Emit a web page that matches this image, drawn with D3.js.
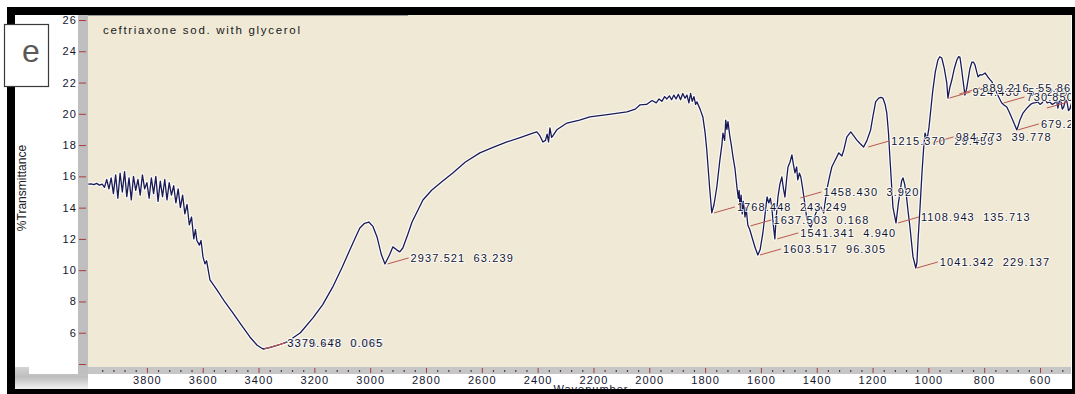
<!DOCTYPE html>
<html>
<head>
<meta charset="utf-8">
<script src="https://cdn.jsdelivr.net/npm/d3@7"></script>
<style>
  body { margin: 0; background: #fff; }
  svg { display: block; font-family: "Liberation Sans", Arial, sans-serif; }
</style>
</head>
<body>
<div id="chart"></div>
<script>
// spectrum (cm-1 and %T)
const wavenumber = [
  4010, 4000, 3990, 3980, 3970, 3960, 3952, 3944, 3936, 3928,
  3920, 3912, 3904, 3896, 3888, 3880, 3872, 3864, 3856, 3848,
  3840, 3832, 3824, 3816, 3808, 3800, 3792, 3784, 3776, 3768,
  3760, 3752, 3744, 3736, 3728, 3720, 3712, 3704, 3696, 3688,
  3680, 3672, 3664, 3656, 3648, 3640, 3632, 3626, 3621, 3612,
  3606, 3599, 3592, 3586, 3574, 3549, 3520, 3492, 3460, 3431,
  3405, 3384, 3360, 3330, 3298, 3250, 3205, 3170, 3134, 3100,
  3073, 3050, 3037, 3020, 3005, 2990, 2975, 2960, 2947, 2930,
  2919, 2905, 2894, 2883, 2865, 2850, 2830, 2811, 2779, 2740,
  2704, 2660, 2607, 2560, 2510, 2460, 2420, 2403, 2392, 2381,
  2372, 2366, 2361, 2356, 2350, 2345, 2330, 2295, 2250, 2213,
  2150, 2080, 2050, 2034, 2010, 1990, 1975, 1965, 1955, 1945,
  1937, 1928, 1920, 1912, 1904, 1896, 1888, 1880, 1872, 1865,
  1858, 1852, 1846, 1840, 1834, 1829, 1818, 1808, 1800, 1794,
  1783, 1776, 1768, 1758, 1747, 1740, 1736, 1730, 1726, 1722,
  1718, 1711, 1706, 1700, 1693, 1686, 1681, 1678, 1675, 1671,
  1667, 1663, 1657, 1653, 1647, 1640, 1629, 1620, 1611, 1603,
  1593, 1585, 1578, 1572, 1566, 1561, 1555, 1550, 1546, 1539,
  1532, 1525, 1520, 1514, 1508, 1503, 1496, 1489, 1484, 1478,
  1472, 1468, 1462, 1457, 1451, 1446, 1440, 1435, 1428, 1421,
  1412, 1403, 1395, 1385, 1375, 1364, 1355, 1346, 1335, 1321,
  1310, 1303, 1292, 1278, 1268, 1257, 1245, 1232, 1220, 1207,
  1198, 1189, 1178, 1170, 1163, 1155, 1149, 1143, 1138, 1132,
  1127, 1116, 1108, 1102, 1096, 1091, 1085, 1080, 1073, 1066,
  1060, 1055, 1045, 1041, 1037, 1030, 1023, 1017, 1012, 1005,
  998, 990, 984, 975, 966, 959, 952, 943, 934, 930,
  923, 916, 907, 898, 892, 887, 882, 876, 869, 863,
  858, 851, 844, 838, 833, 827, 822, 815, 808, 802,
  797, 792, 787, 780, 772, 763, 755, 746, 737, 728,
  719, 710, 701, 692, 683, 677, 672, 666, 661, 652,
  643, 634, 625, 616, 608, 600, 593, 587, 582, 574,
  565, 556, 547, 541, 536, 531, 526, 520, 515, 509,
  504, 498, 493, 487, 482
];
const transmittance = [
  15.50, 15.52, 15.47, 15.55, 15.44, 15.50, 15.30, 15.80, 15.20, 15.90,
  14.90, 16.10, 14.60, 16.20, 15.00, 16.30, 14.70, 15.90, 14.50, 16.00,
  15.10, 15.80, 14.80, 16.10, 15.20, 15.60, 14.60, 15.90, 14.90, 16.00,
  14.40, 15.70, 14.70, 15.80, 14.50, 15.60, 14.80, 15.40, 14.30, 15.20,
  14.00, 14.80, 13.60, 14.20, 12.90, 13.40, 12.00, 12.60, 11.90, 11.60,
  11.90, 10.85, 10.40, 10.60, 9.38, 8.74, 7.95, 7.27, 6.45, 5.73,
  5.20, 4.96, 5.05, 5.20, 5.41, 6.00, 6.95, 7.80, 8.93, 10.20,
  11.29, 12.20, 12.70, 13.00, 13.08, 12.80, 12.10, 11.00, 10.40, 11.00,
  11.49, 11.30, 11.17, 11.42, 12.30, 13.08, 13.80, 14.49, 15.13, 15.70,
  16.22, 16.90, 17.50, 17.85, 18.20, 18.50, 18.75, 18.84, 18.60, 18.20,
  18.30, 18.70, 18.20, 19.10, 18.50, 18.60, 19.00, 19.41, 19.60, 19.80,
  19.95, 20.12, 20.30, 20.57, 20.60, 20.85, 20.70, 20.95, 20.80, 21.10,
  20.95, 21.15, 20.90, 21.20, 20.95, 21.25, 20.90, 21.30, 21.00, 21.20,
  20.70, 21.30, 20.80, 21.10, 20.60, 20.76, 20.30, 19.80, 18.80, 17.69,
  15.10, 13.66, 14.20, 15.32, 17.05, 18.00, 18.77, 18.30, 19.60, 19.00,
  19.50, 18.52, 18.00, 17.24, 16.50, 15.32, 14.60, 15.10, 14.00, 14.80,
  13.60, 14.40, 13.40, 14.00, 12.89, 12.60, 11.93, 11.40, 10.97, 11.30,
  12.38, 13.60, 14.68, 14.30, 14.60, 14.04, 12.80, 12.00, 13.20, 14.68,
  15.50, 15.96, 15.30, 14.68, 15.80, 16.60, 16.90, 17.37, 16.80, 16.22,
  16.60, 15.77, 16.20, 15.96, 15.30, 14.68, 13.90, 13.21, 12.90, 12.76,
  13.20, 13.66, 13.90, 14.04, 13.66, 15.13, 15.90, 16.60, 17.00, 17.50,
  17.30, 17.69, 18.52, 18.84, 18.60, 18.33, 18.10, 17.88, 18.30, 18.97,
  19.90, 20.76, 21.00, 21.05, 21.01, 20.60, 20.05, 18.80, 17.24, 15.50,
  14.04, 13.02, 14.20, 14.94, 15.70, 15.90, 15.50, 14.94, 13.80, 12.76,
  11.70, 10.85, 10.14, 10.50, 11.93, 14.00, 16.22, 17.80, 18.77, 18.33,
  19.10, 20.50, 21.52, 22.70, 23.44, 23.65, 23.57, 22.90, 21.97, 21.01,
  21.70, 22.16, 22.90, 23.44, 23.65, 23.63, 23.00, 22.16, 21.20, 21.60,
  22.16, 22.90, 23.31, 23.30, 23.12, 22.70, 22.36, 22.50, 22.48, 22.55,
  22.61, 22.50, 22.36, 22.20, 22.04, 21.70, 21.33, 21.00, 20.69, 20.55,
  20.44, 20.10, 19.73, 19.35, 18.97, 19.30, 19.60, 19.85, 20.05, 20.25,
  20.44, 20.60, 20.69, 20.72, 20.76, 20.60, 20.69, 20.85, 20.88, 20.70,
  20.76, 20.60, 20.69, 20.90, 20.37, 20.80, 20.88, 20.30, 20.44, 20.90,
  20.82, 20.20, 20.31, 20.69, 20.50
];

// peak picks: wavenumber label, intensity label, %T where the leader starts
const peakLabel = [
  "3376.478", "3379.648", "2937.521", "1768.448", "1637.503", "1603.517",
  "1541.341", "1458.430", "1215.370", "1108.943", "1041.342", "984.773",
  "924.430", "889.216", "730.850", "679.221", "575.620"
];
const peakIntensity = [
  "0.085", "0.065", "63.239", "243.249", "0.168", "96.305",
  "4.940", "3.920", "29.459", "135.713", "229.137", "39.778",
  "57.219", "55.861", "8.458", "10.884", "7.312"
];
const peakTransmittance = [
  4.98, 4.97, 10.40, 13.66, 12.83, 10.97,
  12.00, 14.62, 17.88, 13.02, 10.14, 18.14,
  21.01, 21.27, 20.69, 18.97, 20.37
];

const yTickValues = [4, 6, 8, 10, 12, 14, 16, 18, 20, 22, 24, 26];
const xTickValues = [3800, 3600, 3400, 3200, 3000, 2800, 2600, 2400, 2200, 2000, 1800, 1600, 1400, 1200, 1000, 800, 600];
const title = "ceftriaxone sod. with glycerol";
const yTitle = "%Transmittance";
const xTitle = "Wavenumber";
const panelLetter = "e";

const width = 1075;
const height = 394;
const plot = { left: 88, right: 1071, top: 15, bottom: 367 };
const textColor = "#15152e";

const x = d3.scaleLinear().domain([4011, 489]).range([plot.left, plot.right]);
const y = d3.scaleLinear().domain([4, 26]).range([364, 20]);

const svg = d3.select("#chart")
  .append("svg")
  .attr("width", width)
  .attr("height", height);

const defs = svg.append("defs");
defs.append("clipPath")
  .attr("id", "plot-clip")
  .append("rect")
    .attr("x", plot.left)
    .attr("y", plot.top)
    .attr("width", plot.right - plot.left)
    .attr("height", plot.bottom - plot.top);

const shade = defs.append("linearGradient")
  .attr("id", "corner-shade")
  .attr("x1", 0).attr("y1", 0).attr("x2", 0).attr("y2", 1);
shade.append("stop").attr("offset", "0%").attr("stop-color", "#d4d4d4");
shade.append("stop").attr("offset", "45%").attr("stop-color", "#bdbdbd");
shade.append("stop").attr("offset", "100%").attr("stop-color", "#f2f2f2");

// backgrounds
svg.append("rect").attr("width", width).attr("height", height).attr("fill", "#fff");
svg.append("rect")
  .attr("x", 15).attr("y", 367).attr("width", plot.left - 15).attr("height", 22)
  .attr("fill", "url(#corner-shade)");
svg.append("rect")
  .attr("x", 29).attr("y", 15).attr("width", 49).attr("height", 359)
  .attr("fill", "#fff");
svg.append("rect")
  .attr("x", plot.left).attr("y", plot.top)
  .attr("width", plot.right - plot.left).attr("height", plot.bottom - plot.top)
  .attr("fill", "#efe9d6");
// axis strips
svg.append("rect")
  .attr("x", 78).attr("y", plot.top).attr("width", plot.left - 78).attr("height", 359)
  .attr("fill", "#bfbfbf");
svg.append("rect")
  .attr("x", plot.left).attr("y", plot.bottom).attr("width", plot.right - plot.left).attr("height", 7)
  .attr("fill", "#c6c6c6");
svg.append("rect")
  .attr("x", plot.left).attr("y", 14).attr("width", 320).attr("height", 2)
  .attr("fill", "#9a9a9a");

// spectrum
const points = wavenumber.map((w, i) => [w, transmittance[i]]);
const line = d3.line()
  .x(d => x(d[0]))
  .y(d => y(d[1]));

const plotG = svg.append("g").attr("clip-path", "url(#plot-clip)");

plotG.append("path")
  .datum(points)
  .attr("d", line)
  .attr("fill", "none")
  .attr("stroke", "#fff")
  .attr("stroke-opacity", 0.85)
  .attr("stroke-width", 3.6)
  .attr("stroke-linejoin", "round");

plotG.append("path")
  .datum(points)
  .attr("d", line)
  .attr("fill", "none")
  .attr("stroke", "#1a1a55")
  .attr("stroke-width", 1.3)
  .attr("stroke-linejoin", "round");

// peak labels
const peaks = peakLabel.map((lab, i) => ({
  wn: +lab,
  t: peakTransmittance[i],
  text: `${lab}  ${peakIntensity[i]}`
}));

plotG.selectAll(".leader")
  .data(peaks)
  .enter()
  .append("line")
    .attr("class", "leader")
    .attr("x1", d => x(d.wn))
    .attr("y1", d => y(d.t))
    .attr("x2", d => x(d.wn) + 21)
    .attr("y2", d => y(d.t) - 6)
    .attr("stroke", "#b9574f")
    .attr("stroke-width", 1);

// text of a pick whose label starts past the frame stays hidden, as in the source
plotG.selectAll(".peak-label")
  .data(peaks.filter(d => x(d.wn) + 23 < plot.right - 6))
  .enter()
  .append("text")
    .attr("class", "peak-label")
    .attr("x", d => x(d.wn) + 23)
    .attr("y", d => y(d.t) - 6)
    .attr("dy", "0.36em")
    .style("white-space", "pre")
    .attr("font-size", 11)
    .attr("letter-spacing", 1.1)
    .attr("fill", textColor)
    .attr("stroke", "#fff")
    .attr("stroke-opacity", 0.8)
    .attr("stroke-width", 2)
    .attr("paint-order", "stroke")
    .text(d => d.text);

// title
svg.append("text")
  .attr("x", 103)
  .attr("y", 34)
  .attr("font-size", 11.5)
  .attr("letter-spacing", 1.7)
  .attr("fill", "#1a1a1a")
  .text(title);

// y axis
const yAxis = svg.append("g")
  .attr("transform", "translate(86,0)")
  .call(d3.axisLeft(y)
    .tickValues(yTickValues)
    .tickSize(7)
    .tickPadding(2)
    .tickFormat(d => d === 4 ? "" : d));
yAxis.select(".domain").remove();
yAxis.selectAll(".tick line").attr("stroke", "#a63c3c");
yAxis.selectAll(".tick text")
  .attr("font-family", "Liberation Sans, Arial, sans-serif")
  .attr("font-size", 11)
  .attr("letter-spacing", 1.1)
  .attr("fill", textColor);

// x axis: minor then major ticks
const minorTicks = d3.range(480, 4001, 40).filter(v => v % 200 !== 0);
const xMinor = svg.append("g")
  .attr("transform", `translate(0,${plot.bottom + 3})`)
  .call(d3.axisBottom(x).tickValues(minorTicks).tickSize(2).tickFormat(""));
xMinor.select(".domain").remove();
xMinor.selectAll(".tick line").attr("stroke", "#5a3a3a").attr("stroke-width", 1.2);

const xAxis = svg.append("g")
  .attr("transform", `translate(0,${plot.bottom + 1})`)
  .call(d3.axisBottom(x)
    .tickValues(xTickValues)
    .tickSize(5)
    .tickPadding(3)
    .tickFormat(d => String(d)));
xAxis.select(".domain").remove();
xAxis.selectAll(".tick line").attr("stroke", "#a63c3c");
xAxis.selectAll(".tick text")
  .attr("font-family", "Liberation Sans, Arial, sans-serif")
  .attr("font-size", 11)
  .attr("letter-spacing", 1.1)
  .attr("fill", textColor);

// axis titles
svg.append("text")
  .attr("transform", "translate(22,188) rotate(-90)")
  .attr("text-anchor", "middle")
  .attr("dy", "0.35em")
  .attr("font-family", "Liberation Sans Narrow, Arial Narrow, sans-serif")
  .attr("font-size", 12)
  .attr("fill", "#222")
  .text(yTitle);

svg.append("text")
  .attr("x", 591)
  .attr("y", 393)
  .attr("text-anchor", "middle")
  .attr("font-size", 11)
  .attr("letter-spacing", 1)
  .attr("fill", textColor)
  .text(xTitle);

// black frame
const frame = svg.append("g").attr("fill", "#000");
frame.append("rect").attr("x", 7).attr("y", 7).attr("width", width - 7).attr("height", 8);
frame.append("rect").attr("x", 7).attr("y", 7).attr("width", 8).attr("height", height - 7);
frame.append("rect").attr("x", 7).attr("y", 389).attr("width", width - 7).attr("height", 5);
frame.append("rect").attr("x", 1072).attr("y", 7).attr("width", 3).attr("height", height - 7);

// panel letter box
svg.append("rect")
  .attr("x", 4.5).attr("y", 24.5).attr("width", 44).attr("height", 62)
  .attr("fill", "#fff")
  .attr("stroke", "#3a3a3a")
  .attr("stroke-width", 1.2);
svg.append("text")
  .attr("x", 31)
  .attr("y", 62)
  .attr("text-anchor", "middle")
  .attr("font-family", "Liberation Sans Narrow, Arial Narrow, sans-serif")
  .attr("font-size", 32)
  .attr("fill", "#595959")
  .text(panelLetter);
</script>
</body>
</html>
